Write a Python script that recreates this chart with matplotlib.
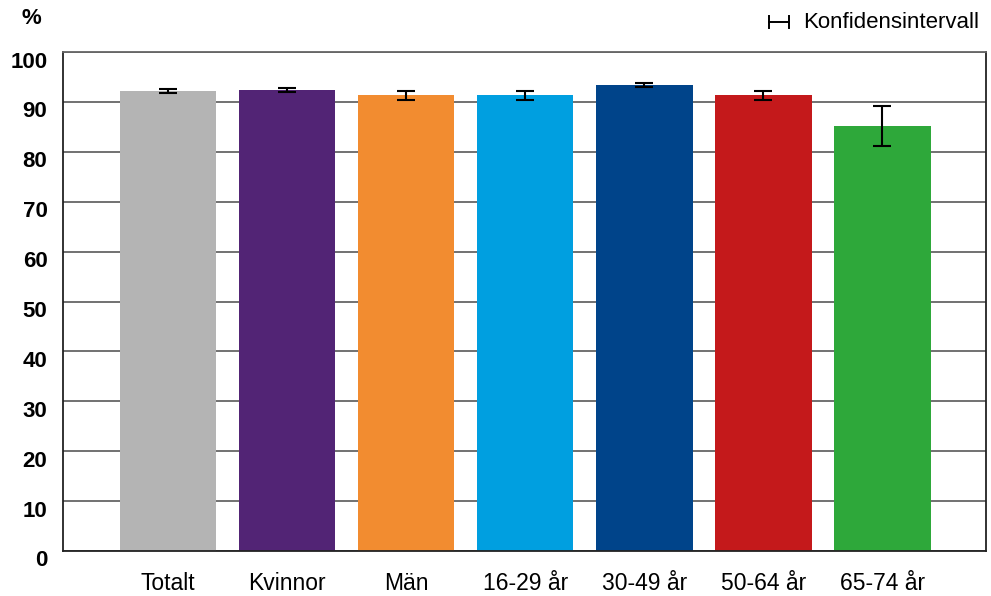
import matplotlib
matplotlib.use("Agg")
import matplotlib.pyplot as plt
from matplotlib.lines import Line2D
from matplotlib.transforms import ScaledTranslation

categories = ["Totalt", "Kvinnor", "Män", "16-29 år", "30-49 år", "50-64 år", "65-74 år"]
values = [92.2, 92.3, 91.3, 91.3, 93.3, 91.3, 85.2]
ci_low = [91.8, 91.9, 90.3, 90.3, 92.9, 90.3, 81.1]
ci_high = [92.6, 92.7, 92.2, 92.2, 93.8, 92.2, 89.2]
colors = ["#b4b4b4", "#522475", "#f28c30", "#009fe0", "#00448a", "#c4191b", "#2ea83a"]
yticks = [0, 10, 20, 30, 40, 50, 60, 70, 80, 90, 100]

W, H = 991, 596
fig = plt.figure(figsize=(W / 100, H / 100), dpi=100)
ax = fig.add_axes([62.7 / W, 1 - 551 / H, (986 - 62.7) / W, (551 - 52) / H])

x = list(range(len(categories)))
yerr = [[v - l for v, l in zip(values, ci_low)], [h - v for v, h in zip(values, ci_high)]]
ax.bar(x, values, width=0.81, color=colors, zorder=2)
ax.errorbar(x, values, yerr=yerr, fmt="none", ecolor="black", elinewidth=1.5,
            capsize=6.5, capthick=1.5, zorder=3)

ax.set_ylim(0, 100)
ax.set_xlim(-0.885, 6.87)
ax.set_yticks(yticks)
ax.set_yticklabels([str(t) for t in yticks], fontfamily="Liberation Sans",
                   fontweight="bold", fontsize=16)
ax.set_xticks(x)
ax.set_xticklabels(categories, fontfamily="Liberation Sans", fontsize=16.5)
ax.tick_params(axis="both", length=0)
ax.tick_params(axis="y", pad=11)
ax.tick_params(axis="x", pad=15)
shift = ScaledTranslation(0, -7.5 / 100, fig.dpi_scale_trans)
for lab in ax.get_yticklabels():
    lab.set_transform(lab.get_transform() + shift)
ax.yaxis.grid(True, color="#666666", linewidth=1.3, zorder=1)
ax.set_axisbelow(True)
for side in ["left", "bottom", "right"]:
    ax.spines[side].set_color("#222222")
    ax.spines[side].set_linewidth(1.3)
ax.spines["top"].set_color("#666666")
ax.spines["top"].set_linewidth(1.3)

fig.text(22 / W, 1 - 19 / H, "%", fontfamily="Liberation Sans", fontweight="bold",
         fontsize=16, va="center", ha="left")

# legend symbol
ly = 1 - 22 / H
fig.add_artist(Line2D([769 / W, 789 / W], [ly, ly], color="black", linewidth=1.4,
                      transform=fig.transFigure))
for xx in (769, 789):
    fig.add_artist(Line2D([xx / W, xx / W], [ly - 6 / H, ly + 6 / H], color="black",
                          linewidth=1.4, transform=fig.transFigure))
fig.text(803 / W, ly, "Konfidensintervall", fontfamily="Liberation Sans", fontsize=16,
         va="center", ha="left")

fig.savefig("out.png", dpi=100)
